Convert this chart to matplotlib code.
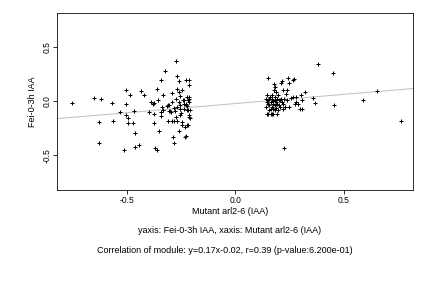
import matplotlib
matplotlib.use('Agg')
import matplotlib.pyplot as plt
import numpy as np

plt.rcParams['font.family'] = ['Liberation Sans', 'DejaVu Sans']

# points (x = Mutant arl2-6, y = Fei-0-3h)
x_left = [-0.752, -0.653, -0.618, -0.627, -0.630, -0.569, -0.564, -0.534, -0.515, -0.502,
          -0.502, -0.506, -0.497, -0.495, -0.486, -0.472, -0.469, -0.462, -0.465, -0.446,
          -0.433, -0.419, -0.400, -0.388, -0.382, -0.376, -0.373, -0.377, -0.371, -0.362,
          -0.363, -0.357, -0.353, -0.345, -0.345, -0.344, -0.340, -0.334, -0.324, -0.317,
          -0.313, -0.305, -0.307, -0.301, -0.294, -0.291, -0.290, -0.288, -0.285, -0.285,
          -0.282, -0.279, -0.275, -0.271, -0.270, -0.276, -0.273, -0.270, -0.262, -0.262,
          -0.259, -0.255, -0.258, -0.255, -0.255, -0.250, -0.247, -0.247, -0.244, -0.239,
          -0.236, -0.235, -0.232, -0.230, -0.230, -0.227, -0.224, -0.224, -0.221, -0.219,
          -0.216, -0.218, -0.216, -0.215, -0.213, -0.212, -0.212, -0.209, -0.209, -0.232,
          -0.219, -0.270, -0.242, -0.230, -0.222, -0.213, -0.255, -0.298, -0.334, -0.313]
y_left = [-0.019, 0.028, 0.019, -0.195, -0.381, -0.019, -0.177, -0.102, -0.446, 0.102,
          -0.028, -0.130, -0.152, -0.201, 0.056, -0.198, -0.090, -0.295, -0.425, -0.400,
          0.096, 0.056, -0.102, -0.009, -0.028, -0.016, -0.121, -0.201, -0.433, -0.446,
          0.118, 0.012, -0.270, 0.202, -0.139, -0.102, -0.053, 0.059, 0.283, -0.047,
          -0.031, -0.037, -0.093, -0.093, -0.180, 0.075, -0.006, -0.328, -0.388, -0.180,
          -0.059, -0.093, 0.375, 0.233, 0.118, 0.025, -0.146, -0.177, 0.186, -0.270,
          0.084, 0.050, -0.006, -0.034, -0.068, -0.108, -0.192, 0.102, -0.220, -0.022,
          0.009, -0.068, -0.238, -0.322, 0.202, -0.028, 0.040, -0.214, -0.047, 0.009,
          0.202, -0.078, -0.124, -0.146, 0.040, 0.149, -0.006, -0.078, -0.158, -0.331,
          -0.223, -0.053, 0.009, -0.037, -0.084, 0.019, -0.130, -0.099, -0.084, -0.186]

x_right = [0.149, 0.144, 0.141, 0.144, 0.141, 0.144, 0.152, 0.153, 0.156, 0.160,
           0.163, 0.163, 0.167, 0.167, 0.172, 0.172, 0.175, 0.175, 0.178, 0.178,
           0.181, 0.183, 0.184, 0.187, 0.187, 0.190, 0.193, 0.196, 0.198, 0.202,
           0.205, 0.209, 0.210, 0.215, 0.218, 0.221, 0.224, 0.224, 0.229, 0.233,
           0.236, 0.239, 0.244, 0.245, 0.248, 0.255, 0.264, 0.267, 0.271, 0.273,
           0.278, 0.281, 0.288, 0.296, 0.301, 0.305, 0.307, 0.322, 0.359, 0.367,
           0.382, 0.451, 0.455, 0.589, 0.653, 0.761,
           0.149, 0.156, 0.163, 0.169, 0.175, 0.181, 0.187, 0.193, 0.199, 0.213,
           0.218, 0.152, 0.170, 0.184, 0.205]
y_right = [0.220, 0.056, 0.025, -0.006, -0.053, -0.115, 0.009, -0.037, -0.084, 0.040,
           -0.006, -0.115, 0.025, -0.053, -0.022, -0.068, 0.003, -0.115, 0.102, 0.165,
           0.040, -0.037, 0.009, 0.087, -0.059, 0.025, -0.022, 0.056, -0.084, 0.009,
           -0.053, 0.025, 0.170, 0.186, 0.102, -0.022, 0.025, -0.433, -0.053, 0.071,
           0.009, 0.102, 0.214, 0.170, -0.053, 0.034, 0.040, 0.196, 0.205, -0.022,
           0.040, -0.006, -0.022, -0.075, 0.062, 0.016, -0.075, 0.090, 0.031, -0.012,
           0.344, 0.261, -0.037, 0.009, 0.093, -0.177,
           -0.022, 0.025, -0.068, 0.056, -0.022, -0.084, -0.006, -0.115, -0.037, -0.006,
           -0.068, -0.115, -0.115, 0.133, 0.009]

slope = 0.17
intercept = -0.02
xticks = [-0.5, 0.0, 0.5]
yticks = [-0.5, 0.0, 0.5]

fig = plt.figure(figsize=(6, 4), dpi=72)
ax = fig.add_axes([0.133, 0.340, 0.824, 0.616])

xs = np.array(x_left + x_right)
ys = np.array(y_left + y_right)
ax.set_xlim(-0.82, 0.82)
ax.set_ylim(-0.82, 0.82)

lx = np.array([-0.82, 0.82])
ax.plot(lx, slope*lx + intercept, color='#c0c0c0', linewidth=1, zorder=1)
ax.scatter(xs, ys, marker='+', s=20, color='black', linewidths=1.0, zorder=2)

ax.set_xticks(xticks)
ax.set_xticklabels(['-0.5', '0.0', '0.5'])
ax.set_yticks(yticks)
ax.set_yticklabels(['-0.5', '0.0', '0.5'], rotation=90, va='center')
ax.tick_params(direction='out', length=4, width=0.8, labelsize=8.5, pad=2)
for sp in ax.spines.values():
    sp.set_linewidth(0.8)

ax.set_ylabel('Fei-0-3h IAA', fontsize=9, labelpad=5)
fig.text(0.532, 0.266, 'Mutant arl2-6 (IAA)', ha='center', va='center', fontsize=9)
fig.text(0.532, 0.199, 'yaxis: Fei-0-3h IAA, xaxis: Mutant arl2-6 (IAA)', ha='center', va='center', fontsize=9)
fig.text(0.52, 0.131, 'Correlation of module: y=0.17x-0.02, r=0.39 (p-value:6.200e-01)',
         ha='center', va='center', fontsize=9)

fig.savefig('out.png', dpi=72)
